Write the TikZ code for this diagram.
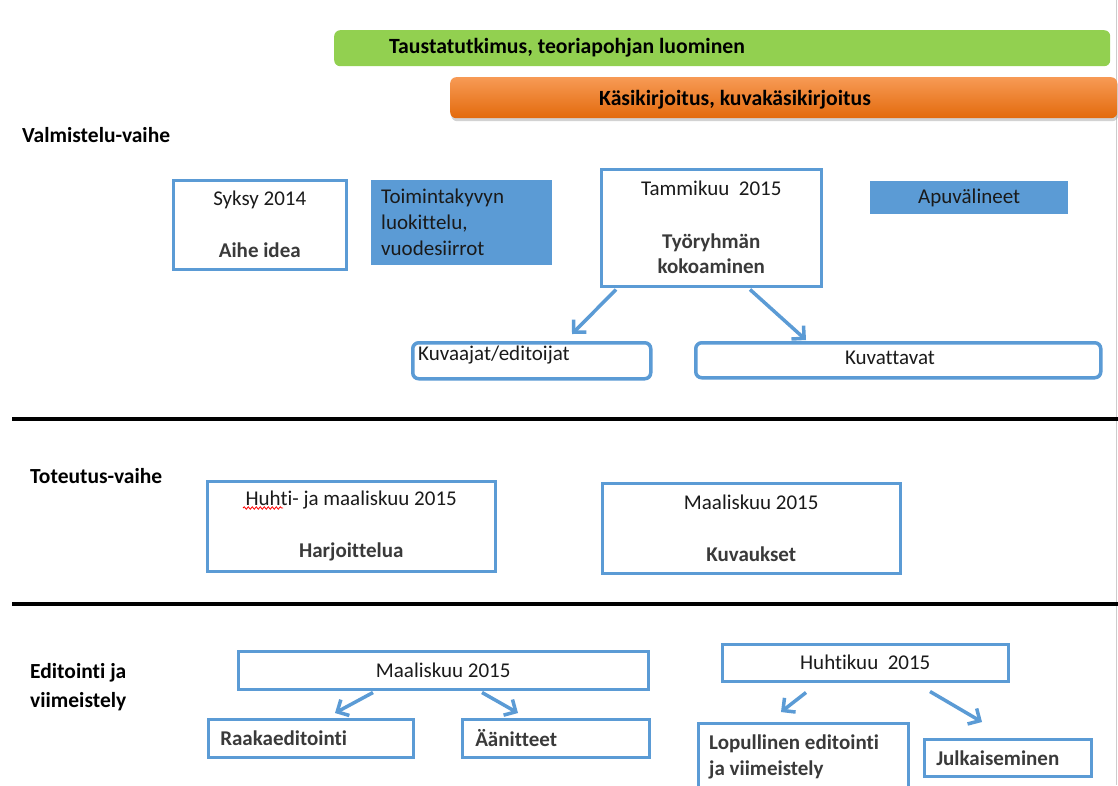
\documentclass[tikz,border=0pt]{standalone}
\usepackage{fontspec}
\setmainfont{Carlito}[Ligatures={NoCommon}]
\usetikzlibrary{arrows.meta,calc,shadows,decorations.pathmorphing}
\definecolor{bl}{HTML}{5B9BD5}
\definecolor{grn}{HTML}{92D050}
\definecolor{orT}{HTML}{F79A55}
\definecolor{orB}{HTML}{E36A0C}
\definecolor{txt}{HTML}{1A1A1A}
\definecolor{btxt}{HTML}{3A3A3A}
\begin{document}
\begin{tikzpicture}[x=1pt,y=-1pt,
  font=\fontsize{21}{25}\selectfont, text=txt,
  box/.style={draw=bl, line width=2.5pt, fill=white, inner sep=0pt, anchor=north west, align=center},
  rbox/.style={box, line width=3.5pt, rounded corners=6pt},
  fbox/.style={fill=bl, inner sep=0pt, anchor=north west, align=center},
  arr/.style={draw=bl, line width=3.5pt, -{Straight Barb[length=9pt,width=18pt,line width=3.5pt]}},
  lab/.style={font=\fontsize{21.5}{29}\selectfont\bfseries, anchor=west, align=left, inner sep=0pt, text=black},
  bar/.style={font=\fontsize{21.7}{26}\selectfont\bfseries, text=black},
  bb/.style={font=\fontsize{21}{26}\selectfont\bfseries, text=btxt},
  sep/.style={line width=4pt, black}]
\clip (0,0) rectangle (1118,785);
\fill[white] (0,0) rectangle (1118,785);
\draw[gray!40, line width=1pt] (1116,0) -- (1116,785);

% top bars
\node[fill=grn, rounded corners=6pt, minimum width=776, minimum height=36, anchor=north west, inner sep=0pt] (g) at (334,30) {};
\node[bar] (gt) at (567,48) {Taustatutkimus, teoriapohjan luominen};
\node[top color=orT, bottom color=orB, rounded corners=6pt, minimum width=667, minimum height=41, anchor=north west, inner sep=0pt,
  drop shadow={opacity=0.35, shadow xshift=1pt, shadow yshift=-3pt}] (o) at (450,77) {};
\node[bar] (ot) at (735,100) {Käsikirjoitus, kuvakäsikirjoitus};

% Valmistelu
\node[lab] (v) at (22,135) {Valmistelu-vaihe};
\node[box, minimum width=173, minimum height=89] (syk) at (172,179) {Syksy 2014\\[27pt]\textbf{\color{btxt}Aihe idea}};
\node[fbox, minimum width=181, minimum height=85, text width=161, align=left, inner xsep=10pt] (toi) at (371,180)
  {Toimintakyvyn\\[1pt]luokittelu,\\[1pt]vuodesiirrot};
\node[box, minimum width=220, minimum height=117] (tam) at (600,168)
  {Tammikuu~~2015\\[28pt]\textbf{\color{btxt}Työryhmän}\\[0pt]\textbf{\color{btxt}kokoaminen}};
\node[fbox, minimum width=198, minimum height=33] (apu) at (870,181) {Apuvälineet};
\node[rbox, minimum width=238, minimum height=36] (kj) at (411,341) {};
\node[anchor=west, inner sep=0pt] (kjt) at ([xshift=7pt,yshift=6pt]kj.west) {Kuvaajat/editoijat};
\node[rbox, minimum width=405, minimum height=35] (kv) at (694,341) {};
\node[inner sep=0pt] (kvt) at (890,358) {Kuvattavat};
\draw[arr] ([xshift=16pt,yshift=-2pt]tam.south west) -- ([xshift=161pt,yshift=7pt]kj.north west);
\draw[arr] ([xshift=150pt,yshift=-2pt]tam.south west) -- ([xshift=112pt,yshift=1pt]kv.north west);

\draw[sep] (12,419) -- (1118,419);

% Toteutus
\node[lab] (t) at (30,476) {Toteutus-vaihe};
\node[box, minimum width=288, minimum height=90] (hm) at (206,480) {Huhti- ja maaliskuu 2015\\[27pt]\textbf{\color{btxt}Harjoittelua}};
\draw[red, line width=0.8pt, decorate, decoration={snake, segment length=4pt, amplitude=1.2pt}] (243,508) -- (283,508);
\node[box, minimum width=298, minimum height=90] (mk) at (601,482) {Maaliskuu 2015\\[27pt]\textbf{\color{btxt}Kuvaukset}};

\draw[sep] (12,604) -- (1118,604);

% Editointi
\node[lab] (e) at (30,687) {Editointi ja\\viimeistely};
\node[box, minimum width=410, minimum height=38] (mk2) at (237,650) {Maaliskuu 2015};
\node[box, bb, minimum width=205, minimum height=38, text width=181, align=left, inner xsep=12pt] (raa) at (207,718) {Raakaeditointi};
\node[box, bb, minimum width=187, minimum height=38, text width=161, align=left, inner xsep=13pt] (aan) at (461,718) {Äänitteet};
\draw[arr] ([xshift=136pt,yshift=-2pt]mk2.south west) -- ([xshift=128pt,yshift=5pt]raa.north west);
\draw[arr] ([xshift=245pt,yshift=-2pt]mk2.south west) -- ([xshift=57pt,yshift=5pt]aan.north west);

\node[box, minimum width=286, minimum height=37] (hk) at (721,643) {Huhtikuu~~2015};
\node[box, minimum width=210, minimum height=80] (lop) at (697,722) {};
\node[bb, anchor=north west, align=left, inner sep=0pt] (lopt) at ([xshift=12pt,yshift=-13pt]lop.north west) {Lopullinen editointi\\ja viimeistely};
\node[box, bb, minimum width=167, minimum height=37, text width=143, align=left, inner xsep=12pt] (jul) at (923,738) {Julkaiseminen};
\draw[arr] ([xshift=85pt,yshift=-10pt]hk.south west) -- ([xshift=84pt,yshift=10pt]lop.north west);
\draw[arr] ([xshift=209pt,yshift=-9pt]hk.south west) -- ([xshift=59pt,yshift=16pt]jul.north west);
\end{tikzpicture}
\end{document}
